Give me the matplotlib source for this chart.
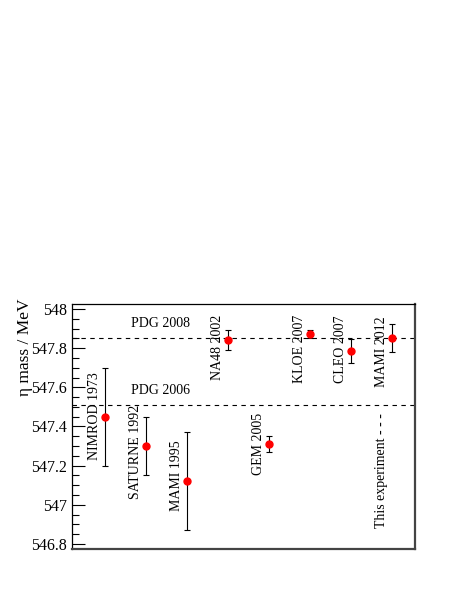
import matplotlib
matplotlib.use("Agg")
import matplotlib.pyplot as plt
from matplotlib.ticker import MultipleLocator, FuncFormatter

experiments = ["NIMROD 1973", "SATURNE 1992", "MAMI 1995", "NA48 2002",
               "GEM 2005", "KLOE 2007", "CLEO 2007", "MAMI 2012"]
masses = [547.45, 547.30, 547.12, 547.843, 547.311, 547.874, 547.785, 547.853]
errors = [0.25, 0.15, 0.25, 0.05, 0.04, 0.02, 0.06, 0.07]
label_bottoms = [547.23, 547.03, 546.97, 547.64, 547.15, 547.62, 547.62, 547.60]
pdg_values = [547.853, 547.51]
pdg_labels = ["PDG 2008", "PDG 2006"]
this_exp_label = "This experiment - - -"
this_exp_bottom = 546.88

serif = ["Liberation Serif", "DejaVu Serif"]

fig = plt.figure(figsize=(4.63, 5.99), dpi=100)
ax = fig.add_axes([0.1555, 0.0835, 0.7408, 0.409])

xs = list(range(1, len(experiments) + 1))
ax.errorbar(xs, masses, yerr=errors, fmt="none", ecolor="black",
            elinewidth=0.8, capsize=2.5, capthick=0.8, zorder=2)
ax.plot(xs, masses, "o", color="red", markersize=5, zorder=3)

for v in pdg_values:
    ax.axhline(v, color="black", linestyle=(0, (4, 4)), linewidth=0.8, zorder=1)
for v, lab in zip(pdg_values, pdg_labels):
    ax.text(2.35, v + 0.04, lab, fontsize=10, family=serif, ha="center", va="bottom")

for x, lab, yb in zip(xs, experiments, label_bottoms):
    ax.text(x - 0.25, yb, lab, rotation=90, fontsize=10, family=serif,
            ha="center", va="bottom")
ax.text(xs[-1] - 0.25, this_exp_bottom, this_exp_label, rotation=90,
        fontsize=10, family=serif, ha="center", va="bottom")

ax.set_xlim(0.2, 8.56)
ax.set_ylim(546.774, 548.026)
ax.yaxis.set_major_locator(MultipleLocator(0.2))
ax.yaxis.set_minor_locator(MultipleLocator(0.05))
ax.yaxis.set_major_formatter(FuncFormatter(lambda v, p: ("%.1f" % v).rstrip("0").rstrip(".")))
ax.tick_params(axis="y", which="major", direction="in", length=9, width=0.8,
               labelsize=11.5)
ax.tick_params(axis="y", which="minor", direction="in", length=5, width=0.8)
ax.tick_params(axis="x", which="both", bottom=False, top=False, labelbottom=False)
for t in ax.get_yticklabels():
    t.set_family(serif)

ax.set_ylabel("η mass / MeV", fontsize=12.5, family=serif, va="center")
ax.yaxis.set_label_coords(-0.137, 0.822)

for s in ["left", "top"]:
    ax.spines[s].set_linewidth(0.9)
for s in ["right", "bottom"]:
    ax.spines[s].set_linewidth(1.6)
    ax.spines[s].set_color("#444444")

fig.savefig("out.png", dpi=100)
